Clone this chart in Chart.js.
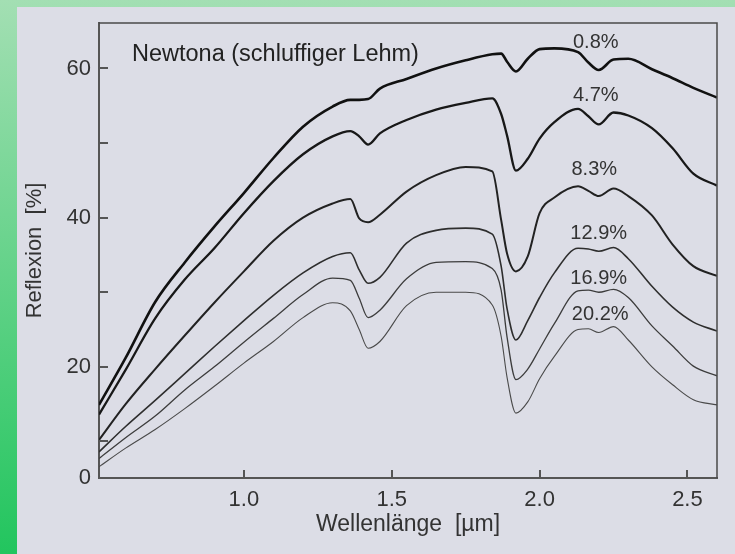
<!DOCTYPE html>
<html>
<head>
<meta charset="utf-8">
<script src="https://cdn.jsdelivr.net/npm/chart.js@4"></script>
<style>
  html, body { margin: 0; padding: 0; background: #dcdde6; }
  #wrap { width: 735px; height: 554px; }
</style>
</head>
<body>
<div id="wrap"><canvas id="chart" width="735" height="554"></canvas></div>
<script>
// wavelength grid in µm, shared by all six curves
const wavelength = [0.51, 0.6, 0.7, 0.8, 0.9, 1.0, 1.1, 1.2, 1.3, 1.36, 1.39, 1.42, 1.46, 1.55, 1.65, 1.75,
                    1.84, 1.87, 1.89, 1.92, 1.96, 2.0, 2.05, 2.13, 2.165, 2.2, 2.25, 2.3, 2.38, 2.45, 2.52, 2.6];

// reflexion in % for each soil moisture
const refl08  = [14.9, 21.2, 28.7, 34.0, 38.8, 43.3, 48.0, 52.2, 54.9, 55.8, 55.8, 55.9, 57.3, 58.6, 60.0, 61.1,
                 61.9, 62.0, 60.9, 59.6, 61.3, 62.6, 62.7, 62.2, 60.8, 59.8, 61.2, 61.3, 59.9, 58.7, 57.4, 56.1];
const refl47  = [13.6, 19.6, 26.5, 31.7, 35.9, 40.6, 44.9, 48.5, 50.9, 51.6, 50.9, 49.8, 51.3, 53.1, 54.5, 55.4,
                 56.0, 53.9, 51.0, 46.3, 47.9, 50.6, 52.8, 54.6, 53.6, 52.5, 54.1, 53.7, 52.0, 49.3, 45.9, 44.3];
const refl83  = [10.2, 15.0, 19.7, 24.2, 28.6, 32.8, 36.9, 40.0, 41.9, 42.5, 39.9, 39.4, 40.4, 43.5, 45.7, 46.8,
                 46.2, 39.7, 35.2, 32.8, 34.8, 40.6, 42.7, 44.2, 43.6, 42.9, 43.9, 42.9, 40.3, 36.4, 33.5, 32.2];
const refl129 = [8.6, 12.0, 15.5, 19.1, 22.7, 26.2, 29.6, 32.6, 34.8, 35.3, 33.0, 31.2, 32.0, 36.6, 38.3, 38.6,
                 37.8, 33.5, 27.8, 23.6, 26.2, 29.3, 32.6, 35.9, 35.8, 35.5, 36.0, 34.5, 30.8, 28.0, 26.0, 24.8];
const refl169 = [7.7, 10.5, 13.4, 16.9, 20.0, 23.3, 26.5, 29.7, 31.9, 31.6, 29.2, 26.6, 27.6, 31.8, 34.0, 34.1,
                 33.2, 30.3, 24.0, 18.3, 19.7, 22.4, 25.8, 30.2, 30.3, 30.0, 30.4, 29.3, 25.5, 22.8, 20.1, 18.8];
const refl202 = [6.6, 9.1, 11.6, 14.4, 17.4, 20.5, 23.4, 26.6, 28.6, 27.5, 25.0, 22.5, 23.4, 28.2, 30.0, 30.0,
                 28.3, 24.1, 18.6, 13.8, 15.3, 18.4, 21.4, 25.0, 25.1, 24.6, 25.4, 23.6, 20.0, 17.6, 15.6, 14.9];

const moisture = ["0.8%", "4.7%", "8.3%", "12.9%", "16.9%", "20.2%"];
const series = [refl08, refl47, refl83, refl129, refl169, refl202];

const xTicks = [1.0, 1.5, 2.0, 2.5];
const xTickLabels = ["1.0", "1.5", "2.0", "2.5"];
// the original figure writes "0" on the axis line itself
const yTickLabels = ["0", "20", "40", "60"];
const yMarks = [10, 20, 30, 40, 50, 60];

const X_MIN = 0.51, X_MAX = 2.6;
const Y_MIN = 5.1, Y_MAX = 66.1;

const FONT = "'Liberation Sans', Arial, Helvetica, sans-serif";
const lineWidths = [2.6, 2.3, 2.0, 1.6, 1.3, 1.1];
const lineColors = ["#111111", "#181818", "#222222", "#2e2e2e", "#3c3c3c", "#4a4a4a"];
// moisture label anchors (data units)
const labelAt = [[2.19, 63.5], [2.19, 56.4], [2.185, 46.5], [2.2, 37.9], [2.2, 31.8], [2.205, 27.0]];

const decor = {
    id: "decor",
    beforeDraw(chart) {
        let ctx = chart.ctx;
        let g = ctx.createLinearGradient(0, 0, 0, chart.height);
        g.addColorStop(0, "#a3dfb3");
        g.addColorStop(1, "#22c55e");
        ctx.save();
        ctx.fillStyle = g;
        ctx.fillRect(0, 0, chart.width, chart.height);
        ctx.fillStyle = "#dcdde6";
        ctx.fillRect(17, 7, chart.width - 17, chart.height - 7);
        ctx.restore();
    },
    afterDraw(chart) {
        let ctx = chart.ctx;
        let a = chart.chartArea;
        let xs = chart.scales.x, ys = chart.scales.y;
        ctx.save();

        // frame top + right
        ctx.strokeStyle = "#4a4a4a";
        ctx.lineWidth = 1.5;
        ctx.beginPath();
        ctx.moveTo(a.left, a.top);
        ctx.lineTo(a.right, a.top);
        ctx.lineTo(a.right, a.bottom);
        ctx.stroke();

        // inward ticks
        ctx.strokeStyle = "#555";
        ctx.lineWidth = 2;
        ctx.beginPath();
        yMarks.forEach(v => {
            let y = Math.round(ys.getPixelForValue(v));
            ctx.moveTo(a.left, y);
            ctx.lineTo(a.left + 9, y);
        });
        xTicks.forEach(v => {
            let x = Math.round(xs.getPixelForValue(v));
            ctx.moveTo(x, a.bottom);
            ctx.lineTo(x, a.bottom - 8);
        });
        ctx.stroke();

        // title inside plot
        ctx.fillStyle = "#222";
        ctx.font = "23.5px " + FONT;
        ctx.textAlign = "left";
        ctx.textBaseline = "alphabetic";
        ctx.fillText("Newtona (schluffiger Lehm)", a.left + 33, a.top + 38);

        // moisture labels
        ctx.fillStyle = "#333";
        ctx.font = "20px " + FONT;
        ctx.textAlign = "center";
        ctx.textBaseline = "middle";
        moisture.forEach((m, i) => {
            ctx.fillText(m, xs.getPixelForValue(labelAt[i][0]), ys.getPixelForValue(labelAt[i][1]));
        });
        ctx.restore();
    }
};

new Chart(document.getElementById("chart"), {
    type: "line",
    data: {
        datasets: series.map((vals, i) => ({
            label: moisture[i],
            data: wavelength.map((w, j) => ({ x: w, y: vals[j] })),
            borderColor: lineColors[i],
            borderWidth: lineWidths[i],
            pointRadius: 0,
            fill: false,
            cubicInterpolationMode: "monotone"
        }))
    },
    options: {
        responsive: false,
        animation: false,
        layout: { padding: { top: 23, right: 18, left: 0, bottom: 0 } },
        plugins: { legend: { display: false }, tooltip: { enabled: false } },
        scales: {
            x: {
                type: "linear",
                min: X_MIN,
                max: X_MAX,
                afterFit(s) { s.height = 76; },
                afterBuildTicks(s) { s.ticks = xTicks.map(v => ({ value: v })); },
                ticks: {
                    callback: (v, i) => xTickLabels[i],
                    font: { family: FONT, size: 22 },
                    color: "#333",
                    padding: 9,
                    maxRotation: 0,
                    autoSkip: false
                },
                grid: { display: false, drawTicks: false },
                border: { display: true, color: "#555", width: 2 },
                title: {
                    display: true,
                    text: "Wellenlänge  [µm]",
                    font: { family: FONT, size: 23 },
                    color: "#333",
                    padding: { top: 0, bottom: 16 }
                }
            },
            y: {
                type: "linear",
                min: Y_MIN,
                max: Y_MAX,
                afterFit(s) { s.width = 99; },
                afterBuildTicks(s) { s.ticks = [Y_MIN, 20, 40, 60].map(v => ({ value: v })); },
                ticks: {
                    callback: (v, i) => yTickLabels[i],
                    font: { family: FONT, size: 22 },
                    color: "#333",
                    padding: 8,
                    autoSkip: false
                },
                grid: { display: false, drawTicks: false },
                border: { display: true, color: "#555", width: 2 },
                title: {
                    display: true,
                    text: "Reflexion  [%]",
                    font: { family: FONT, size: 22 },
                    color: "#333",
                    padding: { top: 22, bottom: 0 }
                }
            }
        }
    },
    plugins: [decor]
});
</script>
</body>
</html>
